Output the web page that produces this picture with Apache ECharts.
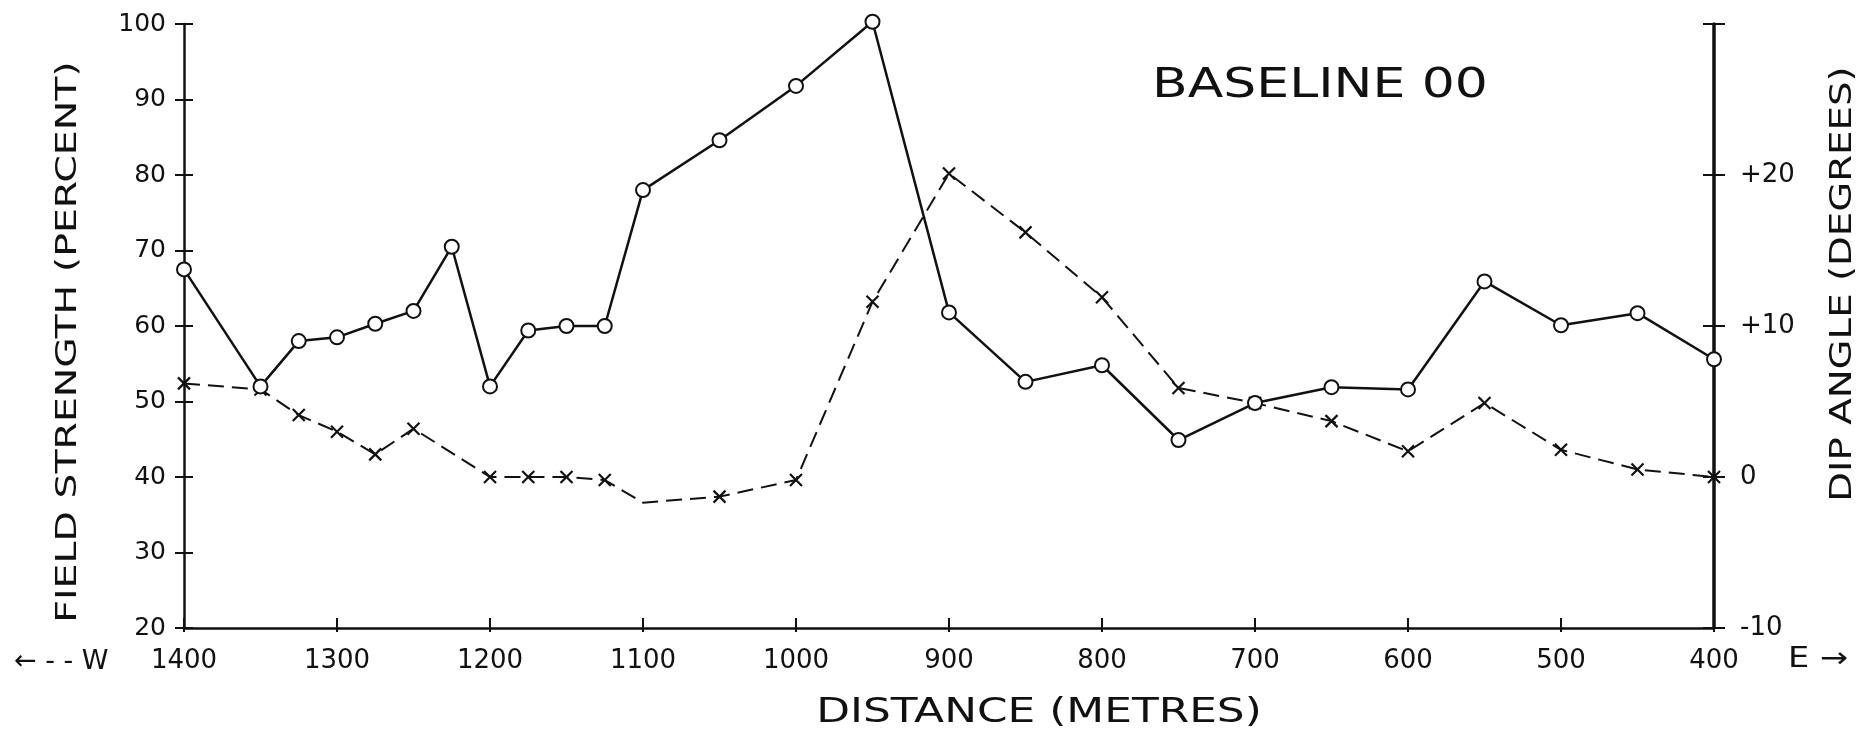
<!DOCTYPE html>
<html>
<head>
<meta charset="utf-8">
<script src="https://cdn.jsdelivr.net/npm/echarts@6/dist/echarts.min.js"></script>
<style>
html,body{margin:0;padding:0;background:#fff;}
#c{width:1863px;height:733px;}
</style>
</head>
<body>
<div id="c"></div>
<script>
// Field strength stations (m) and values (percent)
const fieldDistance = [1400,1350,1325,1300,1275,1250,1225,1200,1175,1150,1125,1100,1050,1000,950,900,850,800,750,700,650,600,550,500,450,400];
const fieldStrength = [67.5,52,58,58.5,60.3,62,70.5,52,59.4,60,60,78,84.6,91.8,100.3,61.8,52.6,54.8,44.9,49.8,51.9,51.6,65.9,60.1,61.7,55.6];
// Dip angle stations (m) and values (degrees); 1100 is a bend without a marker
const dipDistance = [1400,1350,1325,1300,1275,1250,1200,1175,1150,1125,1100,1050,1000,950,900,850,800,750,700,650,600,550,500,450,400];
const dipAngle = [6.2,5.8,4.1,3.0,1.5,3.2,0,0,0,-0.2,-1.7,-1.3,-0.2,11.6,20.1,16.2,11.9,5.9,4.9,3.7,1.7,4.9,1.8,0.5,0];
const dipNoMarker = [1100];
// Axis ticks
const distanceTicks = {min:400, max:1400, interval:100};
const fieldTicks = {min:20, max:100, interval:10};
const dipTicks = {min:-10, max:30, interval:10};

const INK = '#111';
const FONT = 'DejaVu Sans';
const chart = echarts.init(document.getElementById('c'), null, {renderer:'canvas'});

const crossPath = 'path://M0,0L10,10M10,0L0,10';

const fieldData = fieldDistance.map((d,i)=>[d, fieldStrength[i]]);
const dipData = dipDistance.map((d,i)=>{
  const item = {value:[d, dipAngle[i]]};
  if (dipNoMarker.indexOf(d) >= 0) item.symbol = 'none';
  return item;
});

const tickStyle = {color: INK, width: 2};

const option = {
  backgroundColor:'#fff',
  animation:false,
  grid:{left:184, right:149, top:24, bottom:105},
  xAxis:[
    {type:'value', inverse:true, min:distanceTicks.min, max:distanceTicks.max, interval:distanceTicks.interval,
     position:'bottom',
     axisLine:{show:true, onZero:false, lineStyle:{color:INK, width:2.5}},
     axisTick:{show:true, inside:true, length:10, lineStyle:tickStyle},
     axisLabel:{show:true, color:INK, fontFamily:FONT, fontSize:26, margin:20,
       formatter:function(v){ return String(v); }},
     splitLine:{show:false}},
    {type:'value', inverse:true, min:distanceTicks.min, max:distanceTicks.max, interval:distanceTicks.interval,
     position:'bottom',
     axisLine:{show:false, onZero:false},
     axisTick:{show:true, inside:false, length:4, lineStyle:tickStyle},
     axisLabel:{show:false}, splitLine:{show:false}}
  ],
  yAxis:[
    {type:'value', position:'left', min:fieldTicks.min, max:fieldTicks.max, interval:fieldTicks.interval,
     axisLine:{show:true, onZero:false, lineStyle:{color:INK, width:2.5}},
     axisTick:{show:true, inside:false, length:9, lineStyle:tickStyle},
     axisLabel:{show:true, color:INK, fontFamily:FONT, fontSize:25, margin:18},
     splitLine:{show:false}},
    {type:'value', position:'right', min:dipTicks.min, max:dipTicks.max, interval:dipTicks.interval,
     axisLine:{show:true, onZero:false, lineStyle:{color:INK, width:3.5}},
     axisTick:{show:true, inside:false, length:11, lineStyle:tickStyle},
     axisLabel:{show:true, color:INK, fontFamily:FONT, fontSize:26, margin:26,
       formatter:function(v){ if (v === dipTicks.max) return ''; return v > 0 ? '+' + v : String(v); }},
     splitLine:{show:false}},
    {type:'value', position:'left', min:fieldTicks.min, max:fieldTicks.max, interval:fieldTicks.interval,
     axisLine:{show:false, onZero:false},
     axisTick:{show:true, inside:true, length:9, lineStyle:tickStyle},
     axisLabel:{show:false}, splitLine:{show:false}},
    {type:'value', position:'right', min:dipTicks.min, max:dipTicks.max, interval:dipTicks.interval,
     axisLine:{show:false, onZero:false},
     axisTick:{show:true, inside:true, length:11, lineStyle:tickStyle},
     axisLabel:{show:false}, splitLine:{show:false}}
  ],
  series:[
    {type:'line', name:'Dip angle', xAxisIndex:0, yAxisIndex:1, data:dipData,
     symbol:crossPath, symbolSize:12, z:3, clip:false,
     lineStyle:{color:INK, width:2, type:[16,8]},
     itemStyle:{color:INK, borderColor:INK, borderWidth:2.2}},
    {type:'line', name:'Field strength', xAxisIndex:0, yAxisIndex:0, data:fieldData,
     symbol:'emptyCircle', symbolSize:14, z:4, clip:false,
     lineStyle:{color:INK, width:2.5},
     itemStyle:{color:INK, borderColor:INK, borderWidth:2.2}}
  ],
  graphic:[
    {type:'text', x:1320, y:87, scaleX:1.3,
     style:{text:'BASELINE 00', fontFamily:FONT, fontSize:40, fill:INK, textAlign:'center', textVerticalAlign:'middle'}},
    {type:'text', x:68, y:342, rotation:Math.PI/2, scaleX:1.36,
     style:{text:'FIELD STRENGTH (PERCENT)', fontFamily:FONT, fontSize:29, fill:INK, textAlign:'center', textVerticalAlign:'middle'}},
    {type:'text', x:1843, y:284, rotation:Math.PI/2, scaleX:1.29,
     style:{text:'DIP ANGLE (DEGREES)', fontFamily:FONT, fontSize:30, fill:INK, textAlign:'center', textVerticalAlign:'middle'}},
    {type:'text', x:1039, y:713, scaleX:1.29,
     style:{text:'DISTANCE (METRES)', fontFamily:FONT, fontSize:34, fill:INK, textAlign:'center', textVerticalAlign:'middle'}},
    {type:'text', x:14, y:662,
     style:{text:'← - - W', fontFamily:FONT, fontSize:27, fill:INK, textAlign:'left', textVerticalAlign:'middle'}},
    {type:'text', x:1788, y:660, scaleX:1.2,
     style:{text:'E →', fontFamily:FONT, fontSize:28, fill:INK, textAlign:'left', textVerticalAlign:'middle'}}
  ]
};
chart.setOption(option);
</script>
</body>
</html>
